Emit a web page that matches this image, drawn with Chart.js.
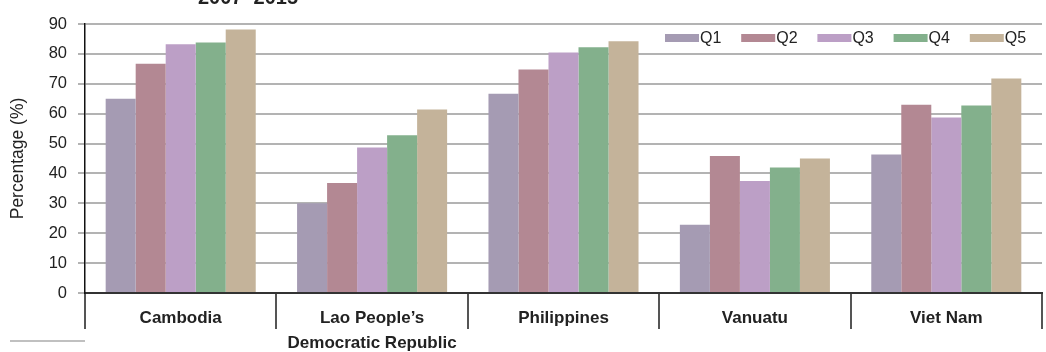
<!DOCTYPE html>
<html>
<head>
<meta charset="utf-8">
<script src="https://cdn.jsdelivr.net/npm/chart.js@4/dist/chart.umd.min.js"></script>
<style>
html,body{margin:0;padding:0;background:#fff;}
#wrap{width:1046px;height:352px;}
</style>
</head>
<body>
<div id="wrap"><canvas id="c" width="1046" height="352"></canvas></div>
<script>
const categories = [["Cambodia"], ["Lao People\u2019s", "Democratic Republic"], ["Philippines"], ["Vanuatu"], ["Viet Nam"]];
const seriesNames = ["Q1", "Q2", "Q3", "Q4", "Q5"];
const Q1 = [65.0, 30.0, 66.7, 22.8, 46.3];
const Q2 = [76.7, 36.8, 74.8, 45.8, 63.0];
const Q3 = [83.2, 48.7, 80.5, 37.5, 58.7];
const Q4 = [83.8, 52.8, 82.2, 42.0, 62.7];
const Q5 = [88.2, 61.4, 84.2, 45.0, 71.8];
const yTicks = [0, 10, 20, 30, 40, 50, 60, 70, 80, 90];
const colors = ["#a59bb3", "#b38893", "#bc9fc6", "#83b08c", "#c4b39a"];
const titleText = "2007\u20132015";
const yTitle = "Percentage (%)";

const FONT = "'Liberation Sans', Arial, sans-serif";
const seriesValues = [Q1, Q2, Q3, Q4, Q5];

const extras = {
  id: 'extras',
  afterDraw(chart) {
    const ctx = chart.ctx;
    ctx.save();
    // cut-off title
    ctx.fillStyle = '#222';
    ctx.font = "bold 20px " + FONT;
    ctx.textAlign = 'center';
    ctx.textBaseline = 'alphabetic';
    ctx.fillText(titleText, 248, 4);
    // legend
    ctx.font = "16px " + FONT;
    ctx.textAlign = 'left';
    ctx.textBaseline = 'middle';
    chart.data.datasets.forEach((ds, i) => {
      const x0 = 665 + i * 76.2;
      ctx.fillStyle = ds.backgroundColor;
      ctx.fillRect(x0, 34, 34, 8);
      ctx.fillStyle = '#222';
      ctx.fillText(ds.label, x0 + 35, 38.5);
    });
    // footnote rule
    ctx.strokeStyle = '#c0c0c0';
    ctx.lineWidth = 2;
    ctx.beginPath();
    ctx.moveTo(10, 341);
    ctx.lineTo(85, 341);
    ctx.stroke();
    ctx.restore();
  }
};

new Chart(document.getElementById('c'), {
  type: 'bar',
  data: {
    labels: categories,
    datasets: seriesNames.map((n, i) => ({
      label: n,
      data: seriesValues[i],
      backgroundColor: colors[i],
      borderWidth: 0,
      categoryPercentage: 0.784,
      barPercentage: 1.0
    }))
  },
  options: {
    responsive: false,
    devicePixelRatio: 1,
    animation: false,
    layout: { padding: { left: 0, right: 4, top: 24, bottom: 0 } },
    plugins: { legend: { display: false }, title: { display: false }, tooltip: { enabled: false } },
    scales: {
      x: {
        offset: true,
        grid: { offset: true, drawOnChartArea: false, drawTicks: true, tickLength: 36, color: '#555', lineWidth: 2 },
        border: { display: true, color: '#333', width: 2 },
        ticks: { color: '#222', padding: -23.5, maxRotation: 0, autoSkip: false,
                 font: { family: FONT, size: 17, weight: 'bold', lineHeight: 1.47 } },
        afterFit(s) { s.height = 59; }
      },
      y: {
        min: 0, max: 90,
        afterBuildTicks(s) { s.ticks = yTicks.map(v => ({ value: v })); },
        grid: { color: '#b3b3b3', lineWidth: 2, tickLength: 7 },
        border: { display: true, color: '#111', width: 1.5 },
        ticks: { color: '#222', padding: 11, font: { family: FONT, size: 16.5 } },
        title: { display: true, text: yTitle, color: '#222', padding: { top: 8, bottom: 0 },
                 font: { family: FONT, size: 17.5 } },
        afterFit(s) { s.width = 85; }
      }
    }
  },
  plugins: [extras]
});
</script>
</body>
</html>
